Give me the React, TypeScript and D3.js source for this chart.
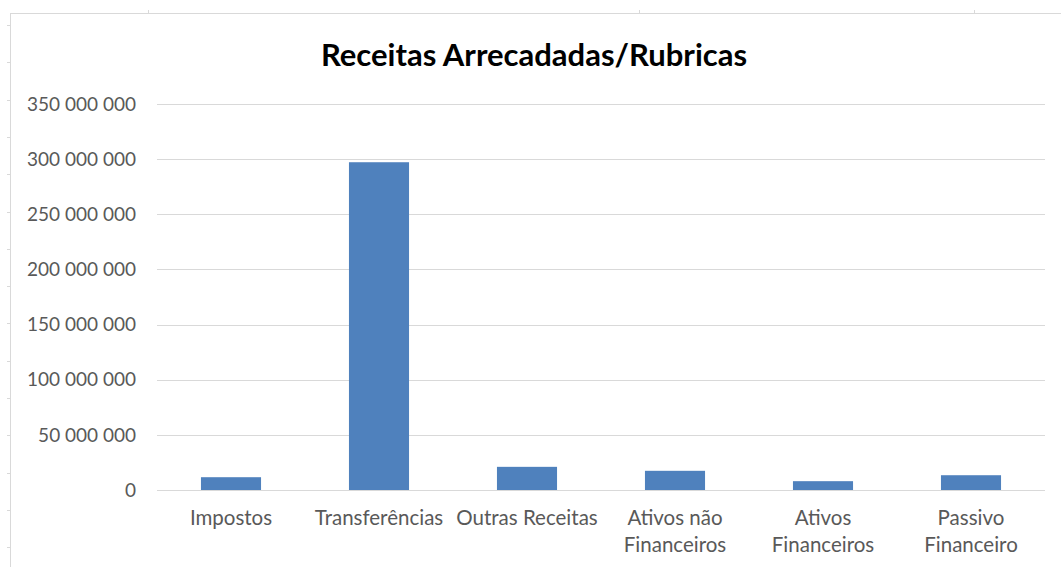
import { useEffect, useRef } from 'react';
import * as d3 from 'd3';

// Receitas arrecadadas por rubrica
const categories = [
  'Impostos',
  'Transferências',
  'Outras Receitas',
  'Ativos não Financeiros',
  'Ativos Financeiros',
  'Passivo Financeiro',
];
const values = [11600000, 297200000, 21000000, 17400000, 8000000, 13400000];
const yTicks = [0, 50000000, 100000000, 150000000, 200000000, 250000000, 300000000, 350000000];
const title = 'Receitas Arrecadadas/Rubricas';

const WIDTH = 1061;
const HEIGHT = 567;
const FONT = 'Lato, "Open Sans", sans-serif';

export default function App() {
  const ref = useRef<SVGSVGElement | null>(null);

  useEffect(() => {
    if (!ref.current) return;
    document.body.style.margin = '0';

    const svg = d3.select(ref.current);
    svg.selectAll('*').remove();

    const margin = { top: 104, right: 16, bottom: 77, left: 157 };
    const innerW = WIDTH - margin.left - margin.right;
    const innerH = HEIGHT - margin.top - margin.bottom;

    // spreadsheet frame around the chart
    const frame = svg.append('g').attr('stroke', '#d9d9d9').attr('stroke-width', 1);
    frame.append('line').attr('x1', 10).attr('x2', WIDTH).attr('y1', 13.5).attr('y2', 13.5);
    frame.append('line').attr('x1', 10.5).attr('x2', 10.5).attr('y1', 13).attr('y2', HEIGHT);
    [148, 639, 974].forEach(x => {
      frame.append('line').attr('x1', x + 0.5).attr('x2', x + 0.5).attr('y1', 10).attr('y2', 13);
    });
    d3.range(25, HEIGHT, 37.3).forEach(y => {
      frame.append('line').attr('x1', 7).attr('x2', 10).attr('y1', Math.round(y) + 0.5).attr('y2', Math.round(y) + 0.5);
    });

    const x = d3.scaleBand<string>()
      .domain(categories)
      .range([0, innerW])
      .paddingInner(0.594)
      .paddingOuter(0.297);

    const y = d3.scaleLinear()
      .domain([0, 350000000])
      .range([innerH, 0]);

    const g = svg.append('g').attr('transform', `translate(${margin.left},${margin.top})`);

    // gridlines
    g.selectAll('.grid')
      .data(yTicks)
      .enter()
      .append('line')
      .attr('x1', 0)
      .attr('x2', innerW)
      .attr('y1', d => Math.round(y(d)) + 0.5)
      .attr('y2', d => Math.round(y(d)) + 0.5)
      .attr('stroke', '#d9d9d9')
      .attr('stroke-width', 1);

    // y labels
    const fmt = (v: number) => d3.format(',')(v).replace(/,/g, ' ');
    g.selectAll('.ylab')
      .data(yTicks)
      .enter()
      .append('text')
      .attr('x', -21)
      .attr('y', d => y(d))
      .attr('dy', '0.35em')
      .attr('text-anchor', 'end')
      .style('font-family', FONT)
      .style('font-size', '19px')
      .style('fill', '#595959')
      .text(d => fmt(d));

    // bars
    g.selectAll('.bar')
      .data(values)
      .enter()
      .append('rect')
      .attr('x', (d, i) => x(categories[i]) as number)
      .attr('width', x.bandwidth())
      .attr('y', d => y(d))
      .attr('height', d => innerH - y(d))
      .attr('fill', '#4f81bd');

    // x labels with wrapping to the band width
    const xFont = 20.5;
    const ctx = document.createElement('canvas').getContext('2d')!;
    ctx.font = `${xFont}px ${FONT}`;
    const step = x.step();
    const wrap = (label: string) => {
      const words = label.split(' ');
      const lines: string[] = [];
      let cur = '';
      words.forEach(w => {
        const test = cur ? `${cur} ${w}` : w;
        if (cur && ctx.measureText(test).width > step) {
          lines.push(cur);
          cur = w;
        } else {
          cur = test;
        }
      });
      if (cur) lines.push(cur);
      return lines;
    };

    categories.forEach(c => {
      const cx = (x(c) as number) + x.bandwidth() / 2;
      const t = g.append('text')
        .attr('x', cx)
        .attr('y', innerH + 35)
        .attr('text-anchor', 'middle')
        .style('font-family', FONT)
        .style('font-size', `${xFont}px`)
        .style('fill', '#595959');
      wrap(c).forEach((line, i) => {
        t.append('tspan')
          .attr('x', cx)
          .attr('dy', i === 0 ? 0 : 27)
          .text(line);
      });
    });

    // title
    svg.append('text')
      .attr('x', 534)
      .attr('y', 66)
      .attr('text-anchor', 'middle')
      .style('font-family', FONT)
      .style('font-size', '31px')
      .style('font-weight', 'bold')
      .style('fill', '#000')
      .text(title);
  }, []);

  return (
    <svg
      ref={ref}
      width={WIDTH}
      height={HEIGHT}
      style={{ position: 'absolute', left: 0, top: 0, background: '#fff' }}
    />
  );
}
